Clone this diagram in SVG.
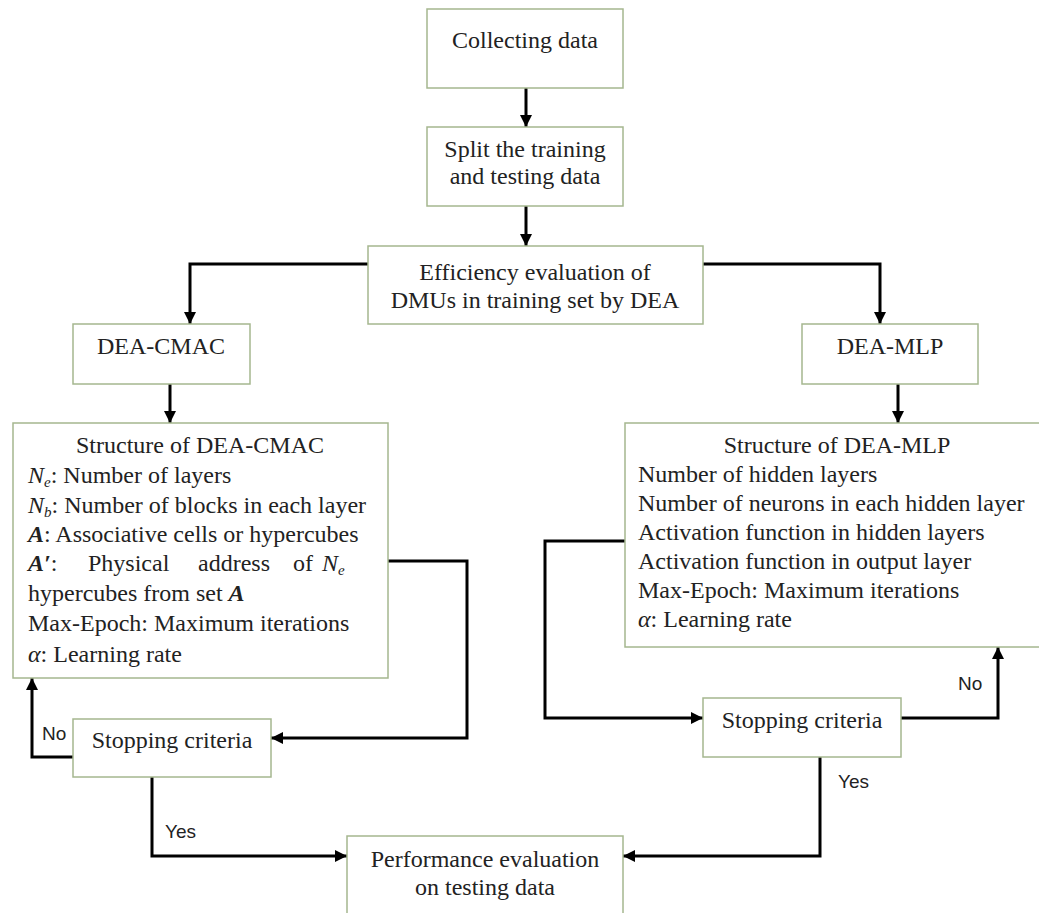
<svg xmlns="http://www.w3.org/2000/svg" width="1039" height="913" viewBox="0 0 1039 913">
<style>
.box{fill:#ffffff;stroke:#a5b78f;stroke-width:1.5}
.t{font-family:'Liberation Serif','DejaVu Serif',Times,serif;font-size:24px;fill:#222}
.c{text-anchor:middle}
.lbl{font-family:'Liberation Sans',Arial,sans-serif;font-size:19px;fill:#222}
.i{font-style:italic}
.bi{font-style:italic;font-weight:bold}
.sub{font-size:15px}
.conn{fill:none;stroke:#000;stroke-width:3;marker-end:url(#ah)}
</style>
<defs>
<marker id="ah" markerUnits="userSpaceOnUse" markerWidth="14" markerHeight="14" refX="12" refY="6" orient="auto">
<path d="M0,0 L12,6 L0,12 z" fill="#000"/>
</marker>
</defs>
<rect width="1039" height="913" fill="#ffffff"/>

<g id="connectors">
<path class="conn" d="M526,88 V127"/>
<path class="conn" d="M526,206 V246"/>
<path class="conn" d="M368,264 H190 V324"/>
<path class="conn" d="M703,264 H880 V324"/>
<path class="conn" d="M170,384 V423"/>
<path class="conn" d="M898,384 V423"/>
<path class="conn" d="M388,561 H467 V738 H271"/>
<path class="conn" d="M73,757 H32 V678"/>
<path class="conn" d="M152,777 V856 H347"/>
<path class="conn" d="M625,541 H545 V718 H703"/>
<path class="conn" d="M901,718 H998 V647"/>
<path class="conn" d="M820,757 V856 H623"/>
</g>

<g id="collecting">
<rect class="box" x="427" y="9" width="196" height="79"/>
<text class="t c" x="525" y="48" font-family="Liberation Serif">Collecting data</text>
</g>

<g id="split">
<rect class="box" x="427" y="127" width="196" height="79"/>
<text class="t c" x="525" y="157">Split the training</text>
<text class="t c" x="525" y="184">and testing data</text>
</g>

<g id="efficiency">
<rect class="box" x="368" y="246" width="335" height="78"/>
<text class="t c" x="535" y="280">Efficiency evaluation of</text>
<text class="t c" x="535" y="308">DMUs in training set by DEA</text>
</g>

<g id="dea-cmac">
<rect class="box" x="73" y="324" width="177" height="60"/>
<text class="t c" x="161" y="354">DEA-CMAC</text>
</g>

<g id="dea-mlp">
<rect class="box" x="802" y="324" width="176" height="60"/>
<text class="t c" x="890" y="354">DEA-MLP</text>
</g>

<g id="structure-cmac">
<rect class="box" x="13" y="423" width="375" height="255"/>
<text class="t c" x="200" y="453">Structure of DEA-CMAC</text>
<text class="t" x="28" y="483"><tspan class="i">N</tspan><tspan class="i sub" dy="4">e</tspan><tspan dy="-4">: Number of layers</tspan></text>
<text class="t" x="28" y="513"><tspan class="i">N</tspan><tspan class="i sub" dy="4">b</tspan><tspan dy="-4">: Number of blocks in each layer</tspan></text>
<text class="t" x="28" y="542"><tspan class="bi">A</tspan>: Associative cells or hypercubes</text>
<text class="t" x="28" y="571"><tspan class="bi">A′</tspan>:</text>
<text class="t" x="88" y="571">Physical</text>
<text class="t" x="198" y="571">address</text>
<text class="t" x="293" y="571">of</text>
<text class="t" x="322" y="571"><tspan class="i">N</tspan><tspan class="i sub" dy="4">e</tspan></text>
<text class="t" x="28" y="601">hypercubes from set <tspan class="bi">A</tspan></text>
<text class="t" x="28" y="631">Max-Epoch: Maximum iterations</text>
<text class="t" x="28" y="662"><tspan class="i">α</tspan>: Learning rate</text>
</g>

<g id="structure-mlp">
<rect class="box" x="625" y="423" width="420" height="224"/>
<text class="t c" x="837" y="453">Structure of DEA-MLP</text>
<text class="t" x="638" y="482">Number of hidden layers</text>
<text class="t" x="638" y="511">Number of neurons in each hidden layer</text>
<text class="t" x="638" y="540">Activation function in hidden layers</text>
<text class="t" x="638" y="569">Activation function in output layer</text>
<text class="t" x="638" y="598">Max-Epoch: Maximum iterations</text>
<text class="t" x="638" y="627"><tspan class="i">α</tspan>: Learning rate</text>
</g>

<g id="stopping-left">
<rect class="box" x="73" y="719" width="198" height="58"/>
<text class="t c" x="172" y="748">Stopping criteria</text>
</g>

<g id="stopping-right">
<rect class="box" x="703" y="698" width="198" height="59"/>
<text class="t c" x="802" y="728">Stopping criteria</text>
</g>

<g id="performance">
<rect class="box" x="347" y="836" width="276" height="82"/>
<text class="t c" x="485" y="867">Performance evaluation</text>
<text class="t c" x="485" y="895">on testing data</text>
</g>

<g id="labels">
<text class="lbl" x="42" y="740">No</text>
<text class="lbl" x="165" y="838">Yes</text>
<text class="lbl" x="958" y="690">No</text>
<text class="lbl" x="838" y="788">Yes</text>
</g>
</svg>
